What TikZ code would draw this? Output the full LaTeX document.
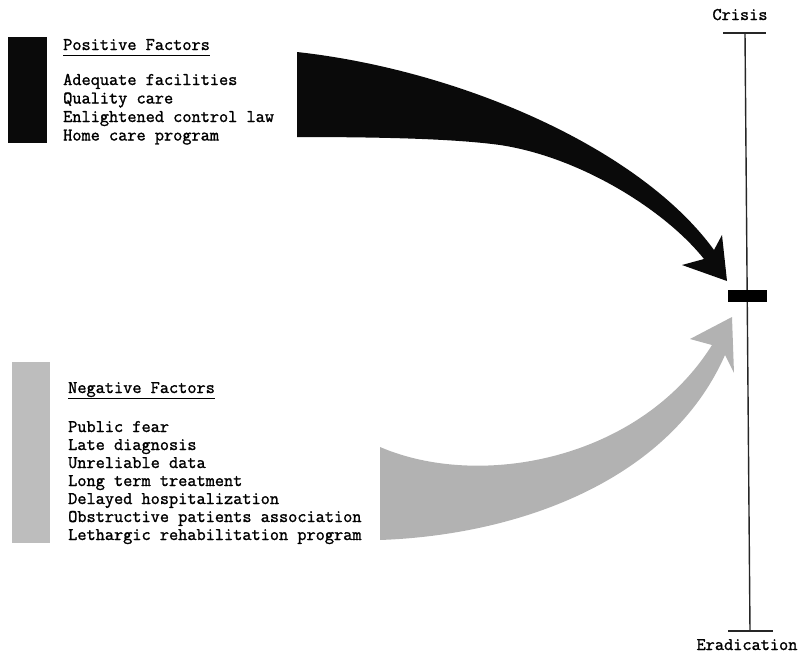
\documentclass[tikz,border=0pt]{standalone}
\usepackage{fontspec}
\usetikzlibrary{positioning}
\definecolor{posfill}{gray}{0.04}
\definecolor{negfill}{gray}{0.70}
\definecolor{negbar}{gray}{0.74}
\newfontfamily\typewriter{Latin Modern Mono}[FakeBold=1.4]
\newcommand{\typed}{\typewriter\fontsize{17.8}{18}\selectfont}
\tikzset{factor/.style={font=\typed, anchor=base west, inner sep=0pt},
  tag/.style={font=\typed, anchor=base, inner sep=0pt},
  axis/.style={line width=1.4pt, color=black!85},
  tick/.style={line width=1.8pt, color=black!85}}
\newcommand{\headline}[1]{\underline{#1\vphantom{g}}}

\begin{document}
\begin{tikzpicture}[x=1pt, y=-1pt]
    \useasboundingbox (0,0) rectangle (801,656);

    % positive side
    \node [fill=posfill, minimum width=39pt, minimum height=106pt, inner sep=0, anchor=north west] (posbar) at (8,37) {};
    \node [factor] (poshead) at (63,50) {\headline{Positive Factors}};
    \foreach \t [count=\i from 0] in {Adequate facilities, Quality care, Enlightened control law, Home care program}
        \node [factor] (pos\i) at (63,{85+18.5*\i}) {\t};

    % negative side
    \node [fill=negbar, minimum width=38pt, minimum height=181pt, inner sep=0, anchor=north west] (negbar) at (12,362) {};
    \node [factor] (neghead) at (68,393) {\headline{Negative Factors}};
    \foreach \t [count=\i from 0] in {Public fear, Late diagnosis, Unreliable data, Long term treatment,
            Delayed hospitalization, Obstructive patients association, Lethargic rehabilitation program}
        \node [factor] (neg\i) at (68,{432+18*\i}) {\t};

    % scale
    \coordinate (top) at (745,33);
    \coordinate (bot) at (750,631);
    \draw [axis] (top) -- (bot);
    \draw [tick] ([xshift=-22pt]top) -- ([xshift=21pt]top);
    \draw [tick] ([xshift=-22pt]bot) -- ([xshift=23pt]bot);
    \node [tag] (crisis) at (740,20) {Crisis};
    \node [tag] (eradication) at (747,650) {Eradication};
    \node [fill=black, minimum width=39pt, minimum height=12pt, inner sep=0] (level) at (747.5,296) {};

    % big arrows
    \coordinate (postip) at (727,281);
    \coordinate (negtip) at (732,317);
    \fill [posfill] (297,52) .. controls (460,70) and (640,148) .. (714,250) -- (722,235) -- (postip)
        -- (682,265) -- (704,259) .. controls (665,210) and (580,157) .. (500,145)
        .. controls (470,141) and (420,137) .. (297,137) -- cycle;
    \fill [negfill] (380,447) .. controls (480,490) and (640,460) .. (712,345) -- (690,339) -- (negtip)
        -- (734,373) -- (725,355) .. controls (670,480) and (520,535) .. (380,540) -- cycle;

\end{tikzpicture}
\end{document}
